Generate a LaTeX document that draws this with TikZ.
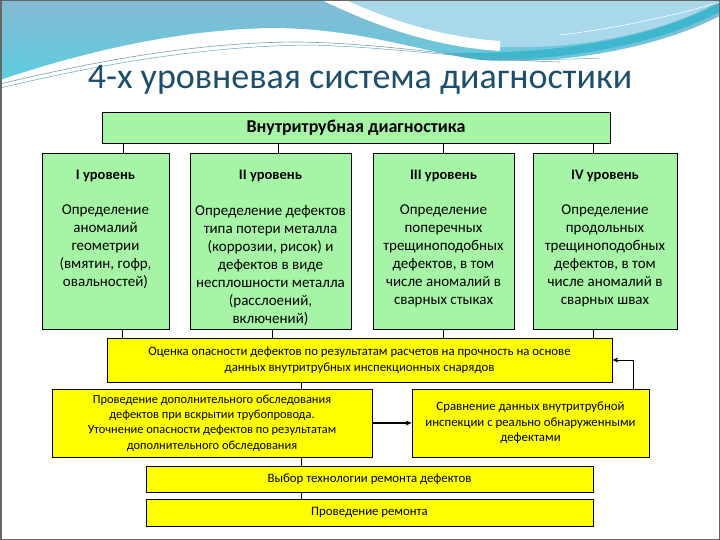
\documentclass[tikz,border=0pt]{standalone}
\usepackage{fontspec}
\setmainfont{Carlito}
\usetikzlibrary{arrows.meta}
\definecolor{boxgreen}{HTML}{A6F5A6}
\definecolor{boxyellow}{HTML}{FFFF00}
\definecolor{titleblue}{HTML}{1B4F6B}
\definecolor{bluetop}{HTML}{86BAD4}
\definecolor{bluebot}{HTML}{52D2E2}
\definecolor{blueright}{HTML}{A8D8EA}
\definecolor{tealband}{HTML}{3DB6CE}
\begin{document}
\begin{tikzpicture}[x=1pt,y=-1pt,
  greenbox/.style={draw=black,fill=boxgreen,line width=0.8pt,inner sep=0pt},
  yellowbox/.style={draw=black,fill=boxyellow,line width=0.8pt,inner sep=0pt,align=center,font=\fontsize{12.8}{16.5}\selectfont},
  leveltitle/.style={font=\fontsize{14.5}{18}\selectfont\bfseries,inner sep=0pt},
  leveltext/.style={font=\fontsize{15}{18}\selectfont,align=center,inner sep=0pt,anchor=north},
  conn/.style={draw=black,line width=0.8pt}]
\useasboundingbox (0,0) rectangle (720,540);
% header background
\shade[top color=bluetop,bottom color=bluebot] (0,0) rectangle (720,100);
\fill[blueright] (335,0) .. controls (390,25) and (440,42) .. (500,47) .. controls (600,50) and (680,25) .. (720,0) -- cycle;
\draw[white,line width=10pt] (325,-4) .. controls (385,25) and (440,42) .. (500,46);
\draw[tealband,line width=8pt] (420,56) .. controls (560,62) and (660,40) .. (722,6);
\fill[white] (0,80) .. controls (90,50) and (180,30) .. (270,28) .. controls (360,28) and (420,52) .. (480,60) .. controls (580,66) and (670,42) .. (720,16) -- (720,540) -- (0,540) -- cycle;
\draw[gray!70!cyan,line width=0.6pt] (0,84) .. controls (100,60) and (200,42) .. (300,42) .. controls (400,44) and (470,60) .. (560,62);
\draw[gray!50!cyan,line width=0.5pt] (0,88) .. controls (110,62) and (210,46) .. (310,45) .. controls (420,48) and (480,64) .. (600,58);
\draw[white,line width=0.6pt] (560,35) .. controls (620,28) and (680,14) .. (720,2);
% frame
\draw[gray!80!black,line width=1.5pt] (0.75,0.75) rectangle (719.25,539.25);
% title
\node (title) at (360,80) {\fontsize{36}{42}\selectfont\color{titleblue}4-х уровневая система диагностики};
% top box
\node[greenbox,minimum width=508pt,minimum height=31pt] (top) at (356,127.5) {\fontsize{18}{20}\selectfont\bfseries Внутритрубная диагностика};
% level boxes
\node[greenbox,minimum width=127pt,minimum height=176pt] (l1) at (105.5,241) {};
\node[greenbox,minimum width=161pt,minimum height=176pt] (l2) at (270.5,241) {};
\node[greenbox,minimum width=141pt,minimum height=176pt] (l3) at (443.5,241) {};
\node[greenbox,minimum width=144pt,minimum height=176pt] (l4) at (605,241) {};
\node[leveltitle] (l1t) at (105.5,176) {I уровень};
\node[leveltitle] (l2t) at (270.5,176) {II уровень};
\node[leveltitle] (l3t) at (443.5,176) {III уровень};
\node[leveltitle] (l4t) at (605,176) {IV уровень};
\node[leveltext] (l1d) at (105.5,205) {Определение\\аномалий\\геометрии\\(вмятин, гофр,\\овальностей)};
\node[leveltext] (l2d) at (270.5,205) {Определение дефектов\\типа потери металла\\(коррозии, рисок) и\\дефектов в виде\\несплошности металла\\(расслоений,\\включений)};
\node[leveltext] (l3d) at (443.5,205) {Определение\\поперечных\\трещиноподобных\\дефектов, в том\\числе аномалий в\\сварных стыках};
\node[leveltext] (l4d) at (605,205) {Определение\\продольных\\трещиноподобных\\дефектов, в том\\числе аномалий в\\сварных швах};
% yellow boxes
\node[yellowbox,minimum width=505pt,minimum height=44pt] (y1) at (359.5,360) {Оценка опасности дефектов по результатам расчетов на прочность на основе\\данных внутритрубных инспекционных снарядов};
\node[yellowbox,minimum width=320pt,minimum height=68pt,font=\fontsize{12.4}{15.3}\selectfont] (y2l) at (212,423) {Проведение дополнительного обследования\\дефектов при вскрытии трубопровода.\\Уточнение опасности дефектов по результатам\\дополнительного обследования};
\node[yellowbox,minimum width=237pt,minimum height=68pt,font=\fontsize{12.8}{15.5}\selectfont] (y2r) at (530.5,423) {Сравнение данных внутритрубной\\инспекции с реально обнаруженными\\дефектами};
\node[yellowbox,minimum width=447pt,minimum height=26pt] (y3) at (369.5,479) {Выбор технологии ремонта дефектов};
\node[yellowbox,minimum width=447pt,minimum height=27pt] (y4) at (369.5,512.5) {Проведение ремонта};
% connectors
\coordinate (cx) at (301,0);
\draw[conn] ([xshift=17.5pt]l1.north) -- ([xshift=17.5pt]l1.north |- top.south);
\draw[conn] ([xshift=7.5pt]l2.north) -- ([xshift=7.5pt]l2.north |- top.south);
\draw[conn] (l3.north) -- (l3.north |- top.south);
\draw[conn] ([xshift=-12pt]l4.north) -- ([xshift=-12pt]l4.north |- top.south);
\draw[conn] ([xshift=16.5pt]l1.south) -- ([xshift=16.5pt]l1.south |- y1.north);
\draw[conn] ([xshift=1.5pt]l2.south) -- ([xshift=1.5pt]l2.south |- y1.north);
\draw[conn] (l3.south) -- (l3.south |- y1.north);
\draw[conn] ([xshift=-12pt]l4.south) -- ([xshift=-12pt]l4.south |- y1.north);
\draw[conn] (y1.south -| cx) -- (y2l.north -| cx);
\draw[conn] (y2l.south -| cx) -- (y3.north -| cx);
\draw[conn] (y3.south -| cx) -- (y4.north -| cx);
\draw[conn,line width=1.4pt,-{Stealth[length=6pt,width=5pt]}] (y2l.east) -- (y2r.west);
\draw[conn,-{Stealth[length=6pt,width=5pt]}] ([xshift=-16pt]y2r.north east) |- (y1.east);
\end{tikzpicture}
\end{document}
